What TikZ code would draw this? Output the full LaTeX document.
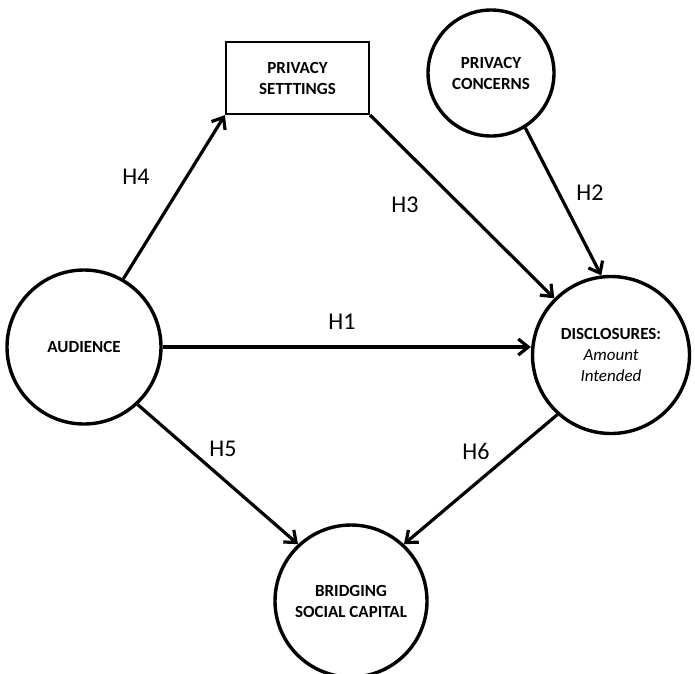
\documentclass[tikz,border=0pt]{standalone}
\usepackage{fontspec}
\setmainfont{Carlito}
\usetikzlibrary{arrows.meta}
\begin{document}
\begin{tikzpicture}[x=1pt,y=-1pt,
  circ/.style={circle,draw,line width=3.4pt,minimum size=#1,inner sep=0pt,align=center,font=\fontsize{17}{21}\selectfont\bfseries},
  arr/.style={line width=3.2pt,-{Straight Barb[length=10pt,width=16pt,line width=3.2pt]}},
  hl/.style={font=\fontsize{24}{28}\selectfont}]
\useasboundingbox (0,0) rectangle (695,673);
\node[draw,line width=2.2pt,minimum width=143pt,minimum height=72pt,inner sep=0pt,align=center,font=\fontsize{17}{21}\selectfont\bfseries] (ps) at (297.5,78) {PRIVACY\\SETTTINGS};
\node[circ=126pt] (pc) at (491,73) {PRIVACY\\CONCERNS};
\node[circ=154pt] (au) at (84,347) {AUDIENCE};
\node[circ=157pt] (di) at (611,355) {DISCLOSURES:\\{\mdseries\itshape Amount}\\{\mdseries\itshape Intended}};
\node[circ=152pt] (bs) at (351,601) {BRIDGING\\SOCIAL CAPITAL};
\draw[arr] (au.60) -- (ps.south west);
\draw[arr] (ps.south east) -- (di.135);
\draw[arr] (pc.-58) -- (di.97);
\draw[arr] (au.east) -- (au.east -| di.west);
\draw[arr] (au.-47) -- (bs.133);
\draw[arr] (di.-132) -- (bs.47);
\node[hl] (h4) at (136,177) {H4};
\node[hl] (h3) at (405,205) {H3};
\node[hl] (h2) at (590,193) {H2};
\node[hl] (h1) at (342,322) {H1};
\node[hl] (h5) at (223,449) {H5};
\node[hl] (h6) at (476,451) {H6};
\end{tikzpicture}
\end{document}
